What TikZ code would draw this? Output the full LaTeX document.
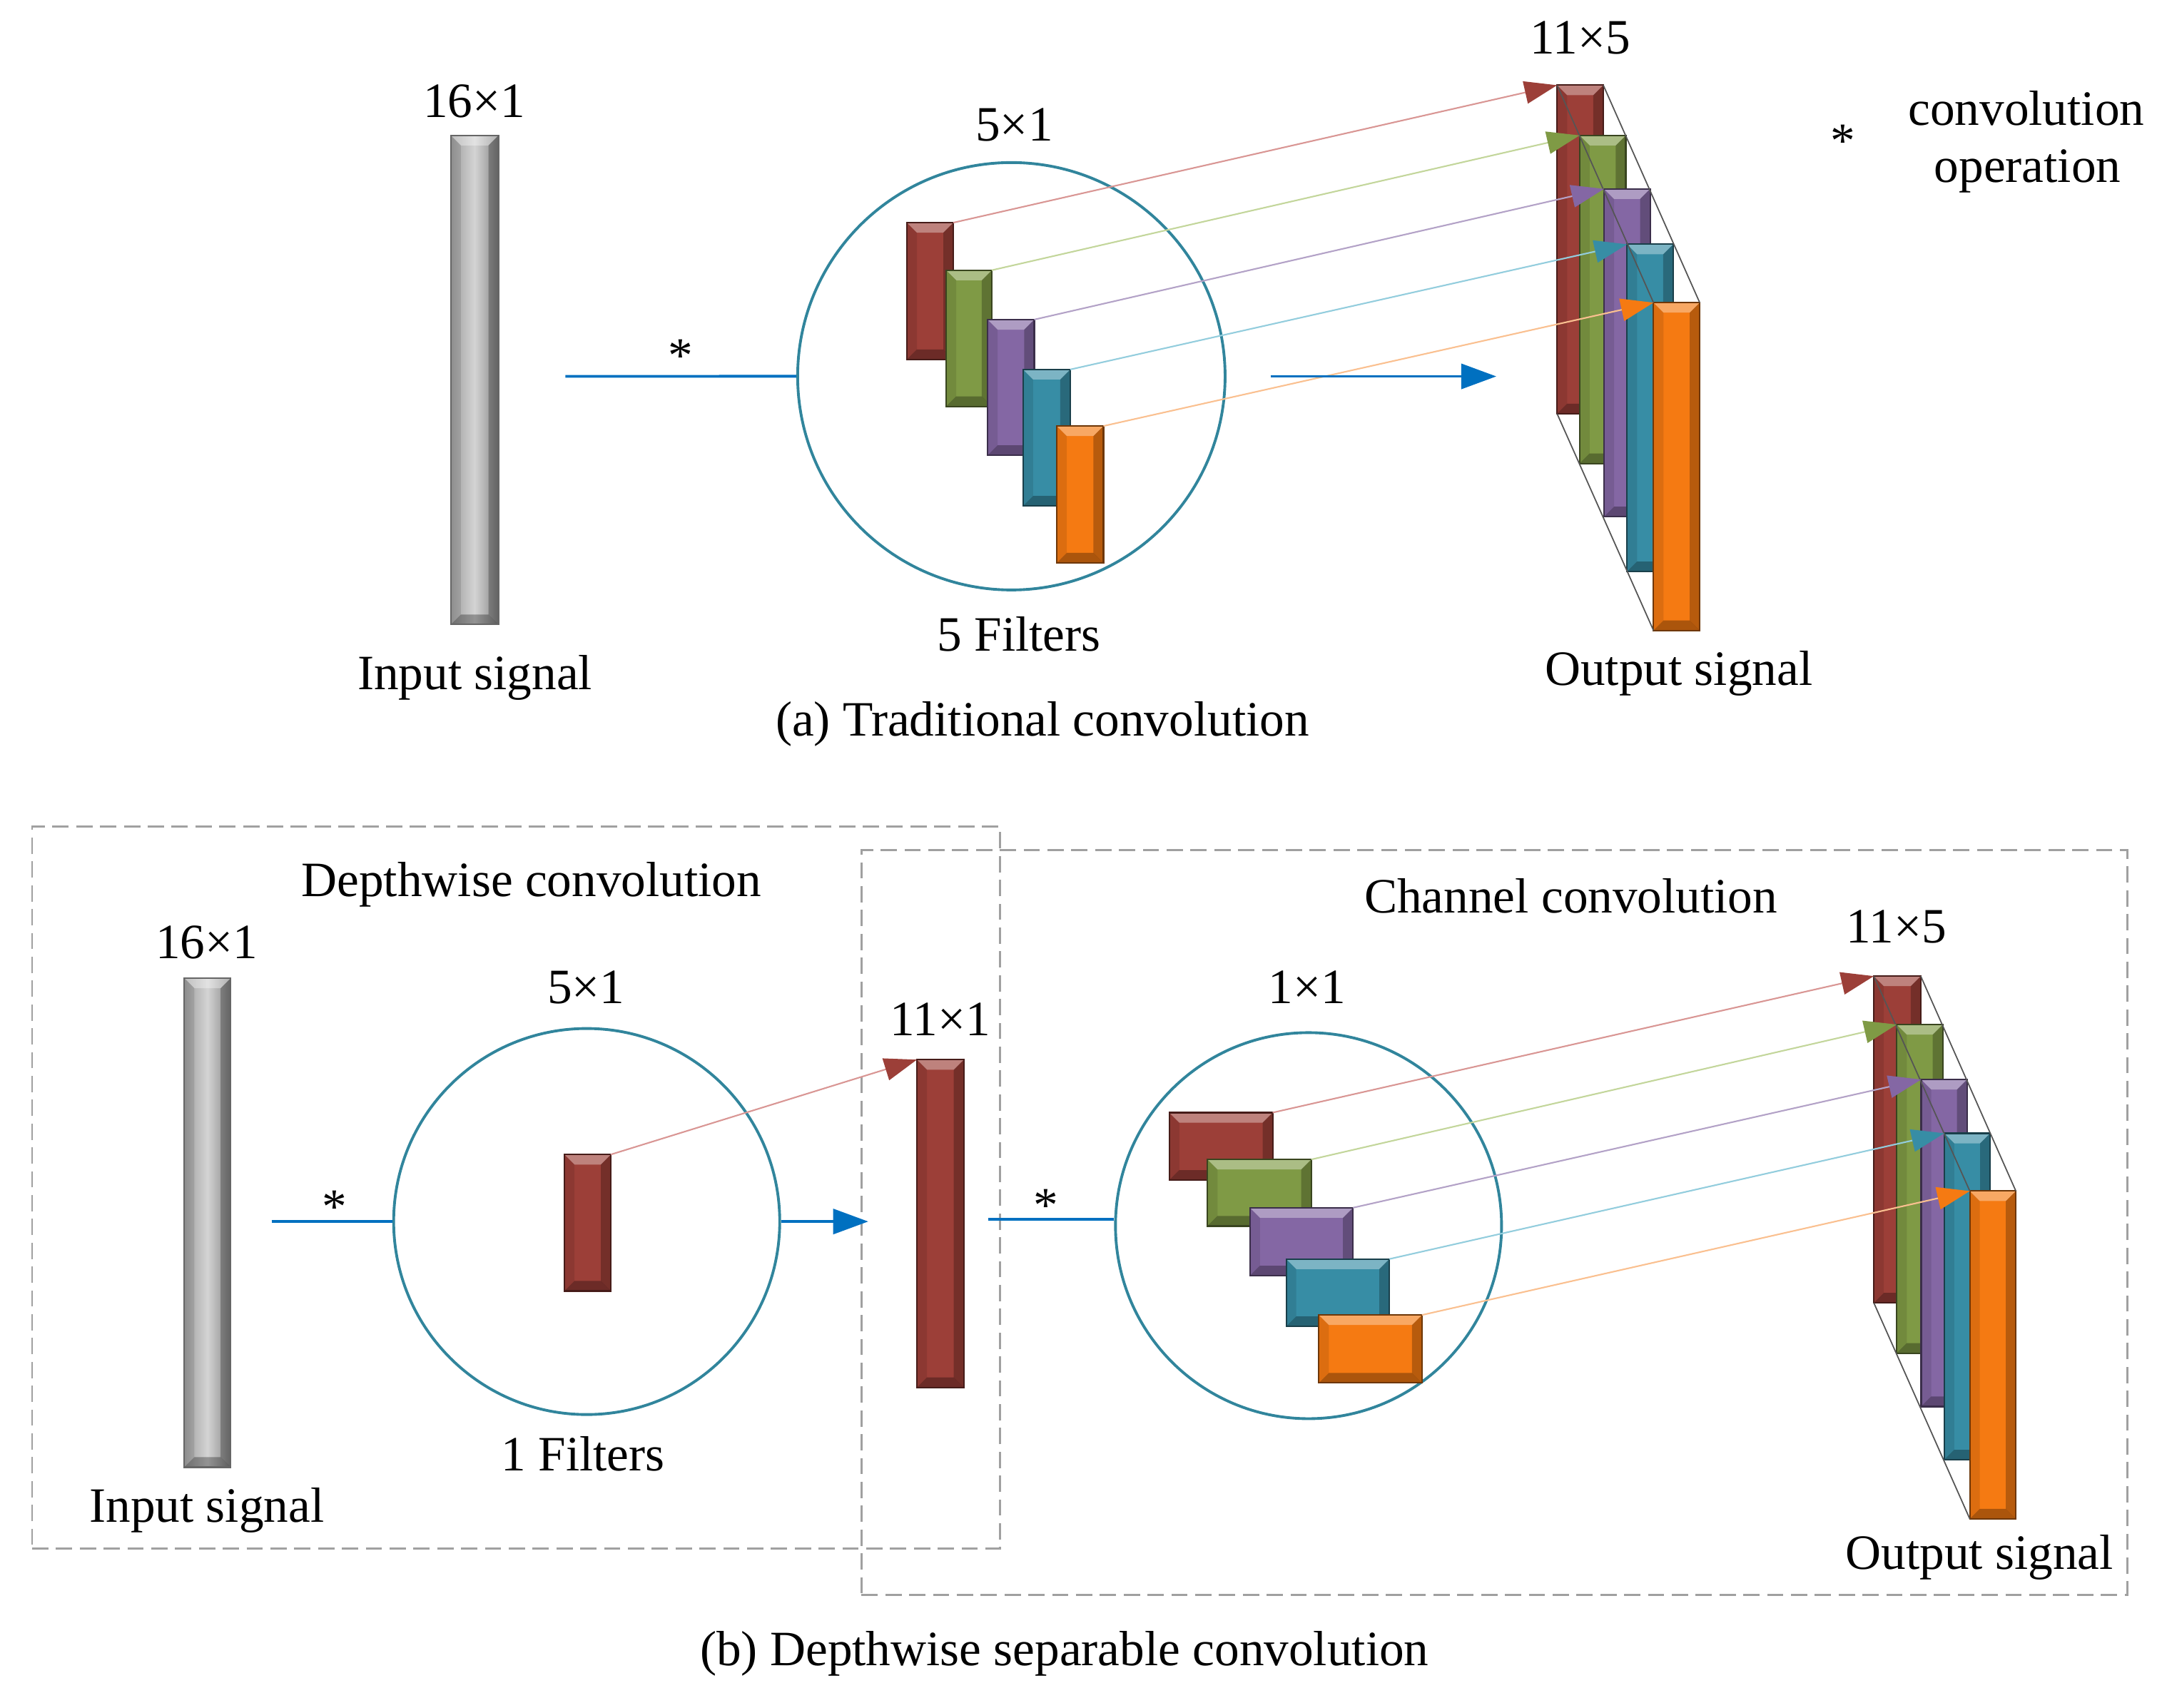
\documentclass[tikz,border=0pt]{standalone}
\usepackage{fontspec}
\setmainfont{Liberation Serif}
\usetikzlibrary{arrows.meta,fit}
\definecolor{cred}{HTML}{9C3F38}
\definecolor{cgreen}{HTML}{7F9A45}
\definecolor{cpurple}{HTML}{8467A4}
\definecolor{cteal}{HTML}{378DA5}
\definecolor{corange}{HTML}{F57A12}
\definecolor{lred}{HTML}{D99694}
\definecolor{lgreen}{HTML}{C3D69B}
\definecolor{lpurple}{HTML}{B3A2C7}
\definecolor{lteal}{HTML}{93CDDD}
\definecolor{lorange}{HTML}{FAC090}
\definecolor{cblue}{HTML}{0070C0}
\definecolor{ccirc}{HTML}{31859C}
\definecolor{cdash}{HTML}{A0A0A0}
\definecolor{cpersp}{HTML}{555555}
\tikzset{
  bevel/.style={path picture={
    \fill[white,opacity=.35] (path picture bounding box.north west) -- (path picture bounding box.north east)
      -- ([xshift=-4pt,yshift=-4pt]path picture bounding box.north east) -- ([xshift=4pt,yshift=-4pt]path picture bounding box.north west) -- cycle;
    \fill[black,opacity=.3] (path picture bounding box.south west) -- (path picture bounding box.south east)
      -- ([xshift=-4pt,yshift=4pt]path picture bounding box.south east) -- ([xshift=4pt,yshift=4pt]path picture bounding box.south west) -- cycle;
    \fill[black,opacity=.25] (path picture bounding box.north east) -- (path picture bounding box.south east)
      -- ([xshift=-4pt,yshift=4pt]path picture bounding box.south east) -- ([xshift=-4pt,yshift=-4pt]path picture bounding box.north east) -- cycle;
    \fill[black,opacity=.1] (path picture bounding box.north west) -- (path picture bounding box.south west)
      -- ([xshift=4pt,yshift=4pt]path picture bounding box.south west) -- ([xshift=4pt,yshift=-4pt]path picture bounding box.north west) -- cycle;
  }},
  bevbar/.style={rectangle, inner sep=0pt, outer sep=0pt, draw=#1!45!black, line width=0.6pt, fill=#1, bevel},
  graybar/.style={rectangle, inner sep=0pt, outer sep=0pt, draw=black!60, line width=0.6pt,
    left color=black!38, right color=black!48, middle color=black!17, bevel},
  dashbox/.style={rectangle, inner sep=0pt, draw=cdash, line width=0.8pt, dash pattern=on 6.5pt off 3pt},
  ring/.style={circle, draw=ccirc, line width=1.1pt, inner sep=0pt},
  lab/.style={font=\fontsize{19.7}{23.6}\selectfont, inner sep=0pt, anchor=base},
  blueline/.style={draw=cblue, line width=1.1pt},
  bluearrow/.style={draw=cblue, line width=1.1pt, -{Triangle[length=14pt,width=10pt]}},
  thinarrow/.style 2 args={draw=#1, line width=0.6pt, -{Triangle[length=13pt,width=9pt,color=#2]}},
  persp/.style={draw=cpersp, line width=0.5pt}
}
\newcommand{\mkbar}[6]{\node[bevbar=#6, fit={(#2,#3) (#4,#5)}] (#1) {};}
\begin{document}
\begin{tikzpicture}[x=0.019324cm, y=-0.019324cm]
\useasboundingbox (0,0) rectangle (1568,1238.4);

% ---------------- (a) Traditional convolution ----------------
\node[graybar, fit={(327,98.2) (361.5,453)}] (inA) {};
\node[ring, minimum size=310*0.019324cm] (cA) at (733.5,272.9) {};
\mkbar{fa1}{657.7}{161.5}{691.4}{260.8}{cred}
\mkbar{fa2}{686.2}{196}{719.3}{294.8}{cgreen}
\mkbar{fa3}{716.2}{231.8}{750.1}{330.3}{cpurple}
\mkbar{fa4}{742}{268}{776.2}{367}{cteal}
\mkbar{fa5}{766.4}{309}{800.3}{408.3}{corange}

\mkbar{oa1}{1129.3}{61.8}{1162.8}{300.1}{cred}
\mkbar{oa2}{1145.6}{98.2}{1179.1}{336.2}{cgreen}
\mkbar{oa3}{1163.3}{137}{1196.8}{374.8}{cpurple}
\mkbar{oa4}{1180}{177.2}{1213.5}{414.6}{cteal}
\mkbar{oa5}{1199.2}{219.5}{1232.7}{457.3}{corange}
\draw[persp] (oa1.north west) -- (oa5.north west);
\draw[persp] (oa1.north east) -- (oa5.north east);
\draw[persp] (oa1.south west) -- (oa5.south west);

\draw[thinarrow={lred}{cred}] (fa1.north east) -- (oa1.north west);
\draw[thinarrow={lgreen}{cgreen}] (fa2.north east) -- (oa2.north west);
\draw[thinarrow={lpurple}{cpurple}] (fa3.north east) -- (oa3.north west);
\draw[thinarrow={lteal}{cteal}] (fa4.north east) -- (oa4.north west);
\draw[thinarrow={lorange}{corange}] (fa5.north east) -- (oa5.north west);

\coordinate (sA) at (410,273);
\draw[blueline] (sA) -- (cA.west);
\coordinate (bA1) at (921.5,273);
\coordinate (bA2) at (1085.2,273);
\draw[bluearrow] (bA1) -- (bA2);

\node[lab] (t16a) at (344,85) {16×1};
\node[lab] (t51a) at (735.6,102) {5×1};
\node[lab] (t115a) at (1146,39) {11×5};
\node[lab] (insa) at (344.5,500) {Input signal};
\node[lab] (filta) at (739,472) {5 Filters};
\node[lab] (outsa) at (1217.5,497) {Output signal};
\node[lab] (capa) at (756,534) {(a) Traditional convolution};
\node[lab] (asta) at (493.7,270) {*};
\node[lab] (legast) at (1336.5,114) {*};
\node[lab] (leg1) at (1469.6,91) {convolution};
\node[lab] (leg2) at (1470.5,132) {operation};

% ---------------- (b) Depthwise separable convolution ----------------
\node[dashbox, fit={(23.3,599.5) (725.3,1123.3)}] (box1) {};
\node[dashbox, fit={(624.8,616.5) (1542.8,1156.8)}] (box2) {};

\node[graybar, fit={(133.7,709.5) (167.3,1064.2)}] (inB) {};
\node[ring, minimum size=280*0.019324cm] (cB1) at (425.5,886) {};
\mkbar{fb}{409.4}{837.4}{443}{936.4}{cred}
\mkbar{mid}{665}{768.6}{699}{1006.4}{cred}
\draw[thinarrow={lred}{cred}] (fb.north east) -- (mid.north west);

\coordinate (sB1) at (197,886);
\draw[blueline] (sB1) -- (cB1.west);
\coordinate (eB1) at (629.7,886);
\draw[bluearrow] (cB1.east) -- (eB1);

\node[ring, minimum size=280*0.019324cm] (cB2) at (949,889) {};
\coordinate (sB2) at (716.8,884.4);
\draw[blueline] (sB2) -- (sB2 -| cB2.west);

\mkbar{q1}{848}{807}{923}{856}{cred}
\mkbar{q2}{875.7}{841}{951}{889.3}{cgreen}
\mkbar{q3}{906.5}{876}{981.3}{925.3}{cpurple}
\mkbar{q4}{932.8}{913.2}{1007.6}{962.1}{cteal}
\mkbar{q5}{956.5}{953.8}{1031.3}{1003.1}{corange}

\mkbar{ob1}{1359}{708}{1393}{945}{cred}
\mkbar{ob2}{1375.6}{743.1}{1409}{981.5}{cgreen}
\mkbar{ob3}{1393.3}{783}{1426.6}{1020.2}{cpurple}
\mkbar{ob4}{1410}{822}{1443.3}{1058.9}{cteal}
\mkbar{ob5}{1428.6}{863.9}{1462}{1101.7}{corange}
\draw[persp] (ob1.north west) -- (ob5.north west);
\draw[persp] (ob1.north east) -- (ob5.north east);
\draw[persp] (ob1.south west) -- (ob5.south west);

\draw[thinarrow={lred}{cred}] (q1.north east) -- (ob1.north west);
\draw[thinarrow={lgreen}{cgreen}] (q2.north east) -- (ob2.north west);
\draw[thinarrow={lpurple}{cpurple}] (q3.north east) -- (ob3.north west);
\draw[thinarrow={lteal}{cteal}] (q4.north east) -- (ob4.north west);
\draw[thinarrow={lorange}{corange}] (q5.north east) -- (ob5.north west);

\node[lab] (dwt) at (385.4,650) {Depthwise convolution};
\node[lab] (t16b) at (149.8,695) {16×1};
\node[lab] (t51b) at (425,727.6) {5×1};
\node[lab] (t111) at (682,751) {11×1};
\node[lab] (filtb) at (422.8,1067) {1 Filters};
\node[lab] (insb) at (150,1104) {Input signal};
\node[lab] (astb1) at (242.6,887) {*};
\node[lab] (astb2) at (758.4,886) {*};
\node[lab] (chct) at (1139.3,662) {Channel convolution};
\node[lab] (t115b) at (1375.4,684) {11×5};
\node[lab] (t11) at (948,728) {1×1};
\node[lab] (outsb) at (1435.7,1138) {Output signal};
\node[lab] (capb) at (772,1208) {(b) Depthwise separable convolution};
\end{tikzpicture}
\end{document}
